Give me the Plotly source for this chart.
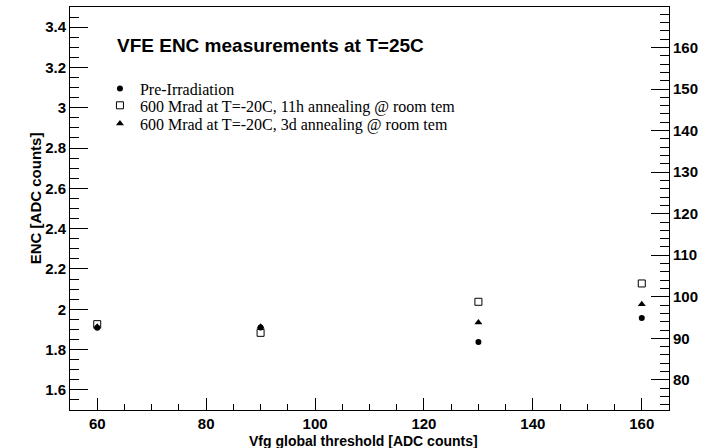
import plotly.graph_objects as go

# ---- data ----
vthr = [60, 90, 130, 160]
pre_irr = [1.908, 1.910, 1.838, 1.956]
ann_11h = [1.926, 1.883, 2.037, 2.128]
ann_3d = [1.913, 1.913, 1.934, 2.025]

series_names = [
    "Pre-Irradiation",
    "600 Mrad at T=-20C, 11h annealing @ room tem",
    "600 Mrad at T=-20C, 3d annealing @ room tem",
]

left_tick_vals = [1.6, 1.8, 2.0, 2.2, 2.4, 2.6, 2.8, 3.0, 3.2, 3.4]
left_tick_text = ["1.6", "1.8", "2", "2.2", "2.4", "2.6", "2.8", "3", "3.2", "3.4"]
x_tick_vals = [60, 80, 100, 120, 140, 160]
right_tick_vals = [80, 90, 100, 110, 120, 130, 140, 150, 160]

title_text = "VFE ENC measurements at T=25C"
x_title = "Vfg global threshold [ADC counts]"
y_title = "ENC [ADC counts]"

X_RANGE = [55, 165]
Y_RANGE = [1.5, 3.5]
SCALE = 48.5  # right axis = left axis * SCALE

fig = go.Figure()
fig.add_trace(go.Scatter(x=vthr, y=pre_irr, mode="markers", name=series_names[0], legend="legend",
                         marker=dict(symbol="circle", size=6, color="black")))
fig.add_trace(go.Scatter(x=vthr, y=ann_11h, mode="markers", name=series_names[1], legend="legend2",
                         marker=dict(symbol="square-open", size=7, color="black",
                                     line=dict(width=1, color="black"))))
fig.add_trace(go.Scatter(x=vthr, y=ann_3d, mode="markers", name=series_names[2], legend="legend3",
                         marker=dict(symbol="triangle-up", size=7, color="black")))
# invisible trace to activate the right axis
fig.add_trace(go.Scatter(x=[vthr[0]], y=[pre_irr[0] * SCALE], yaxis="y2", mode="markers",
                         marker=dict(opacity=0), showlegend=False, hoverinfo="skip"))

tickfont = dict(family="Liberation Sans", size=15, color="black", weight="bold")
legfont = dict(family="Liberation Serif", size=16, color="black")


def leg(y):
    return dict(x=0.05, y=y, xanchor="left", yanchor="top", bgcolor="rgba(0,0,0,0)",
                borderwidth=0, font=legfont, itemwidth=30)


fig.update_layout(
    width=709, height=448,
    margin=dict(l=70, r=40, t=7, b=38),
    paper_bgcolor="white", plot_bgcolor="white",
    showlegend=True,
    legend=leg(0.840),
    legend2=leg(0.798),
    legend3=leg(0.753),
    xaxis=dict(range=X_RANGE, showline=True, linecolor="black", linewidth=1, mirror=True,
               showgrid=False, zeroline=False,
               tickvals=x_tick_vals, ticks="inside", ticklen=12, tickcolor="black",
               tickfont=tickfont,
               minor=dict(dtick=5, tick0=60, ticks="inside", ticklen=6, tickcolor="black", showgrid=False)),
    yaxis=dict(range=Y_RANGE, showline=True, linecolor="black", linewidth=1, mirror=False,
               showgrid=False, zeroline=False,
               tickvals=left_tick_vals, ticktext=left_tick_text,
               ticks="inside", ticklen=18, tickcolor="black", tickfont=tickfont,
               minor=dict(dtick=0.05, tick0=1.5, ticks="inside", ticklen=9, tickcolor="black", showgrid=False)),
    yaxis2=dict(range=[Y_RANGE[0] * SCALE, Y_RANGE[1] * SCALE], overlaying="y", side="right",
                showline=True, linecolor="black", linewidth=1,
                showgrid=False, zeroline=False,
                tickvals=right_tick_vals, ticks="inside", ticklen=18, tickcolor="black",
                tickfont=tickfont,
                minor=dict(dtick=2, tick0=70, ticks="inside", ticklen=9, tickcolor="black", showgrid=False)),
    annotations=[
        dict(text=title_text, xref="paper", yref="paper", x=0.075, y=0.905,
             xanchor="left", yanchor="middle", showarrow=False,
             font=dict(family="Liberation Sans", size=19, color="black", weight="bold")),
        dict(text=x_title, xref="paper", yref="paper", x=0.49, y=-0.076,
             xanchor="center", yanchor="middle", showarrow=False,
             font=dict(family="Liberation Sans", size=14, color="black", weight="bold")),
        dict(text=y_title, xref="paper", yref="paper", x=-0.058, y=0.526,
             xanchor="center", yanchor="middle", showarrow=False, textangle=-90,
             font=dict(family="Liberation Sans", size=15, color="black", weight="bold")),
    ],
)

fig.write_html("out.html")
